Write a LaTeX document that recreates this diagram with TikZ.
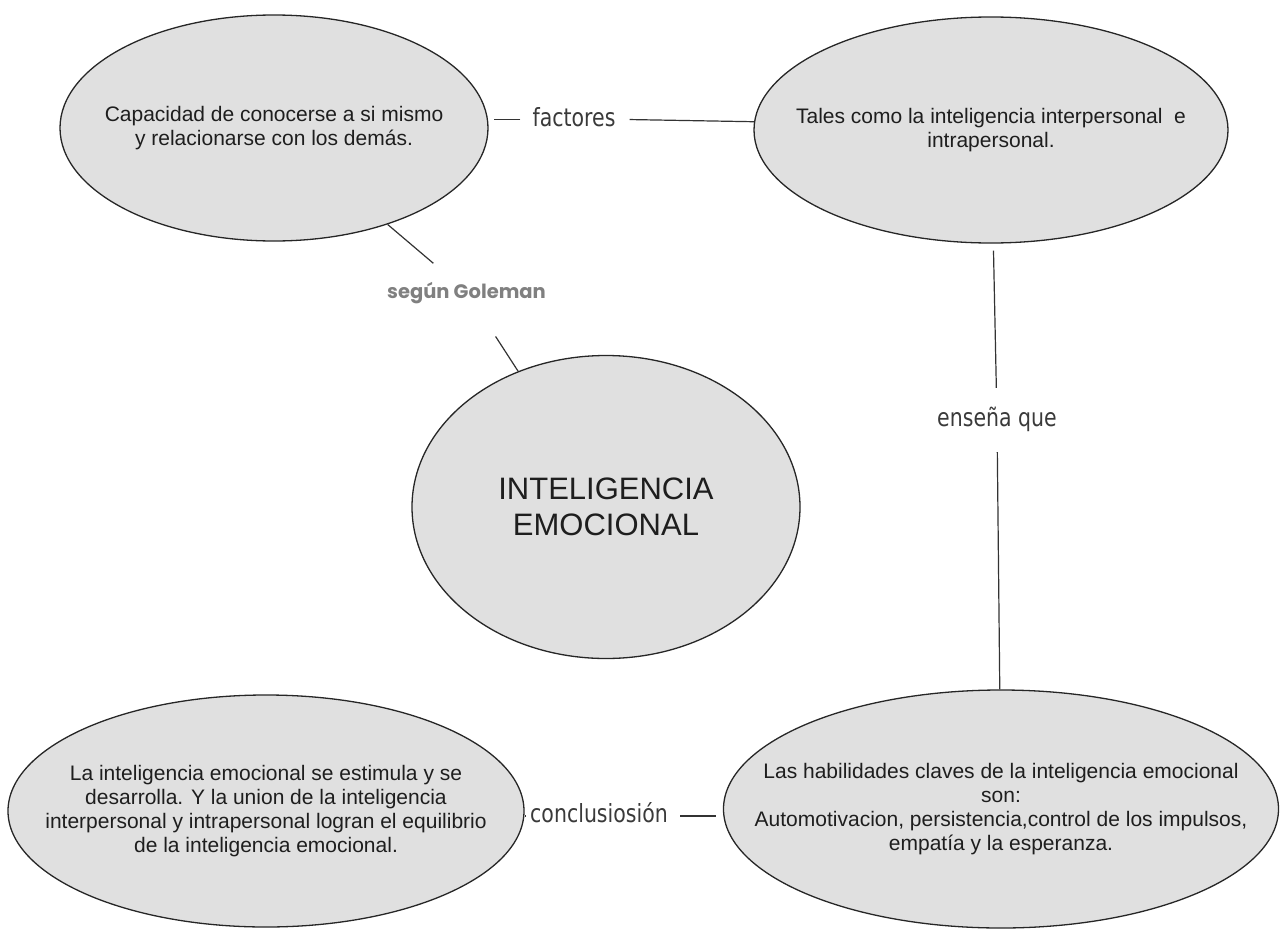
\documentclass[tikz,border=0pt]{standalone}
\usepackage{fontspec}
\setmainfont{Liberation Sans}
\newfontfamily\linkfont[FakeStretch=0.82]{DejaVu Sans}
\newfontfamily\golfont{Poppins}
\usetikzlibrary{shapes.geometric}
\definecolor{ovalfill}{RGB}{224,224,224}
\definecolor{ovaltext}{RGB}{30,30,30}
\definecolor{linktext}{RGB}{58,58,58}
\definecolor{golgray}{RGB}{128,128,128}
\tikzset{oval/.style={ellipse, draw=black!85, line width=1.3pt, fill=ovalfill, inner sep=0pt}, ovaltxt/.style={align=center, text=ovaltext, inner sep=0pt, font=\fontsize{21}{24}\selectfont}}
\tikzset{link/.style={font=\linkfont\fontsize{25}{30}\selectfont, text=linktext, text height=13.7pt, text depth=0pt, inner ysep=0pt}, conn/.style={draw=black!80, line width=1.2pt}}

\begin{document}
\begin{tikzpicture}[x=1pt,y=-1pt]
   \useasboundingbox (0,0) rectangle (1280,929);
   \node[oval, minimum width=428, minimum height=226,
      label={[ovaltxt]center:Capacidad de conocerse a si mismo\\ y relacionarse con los demás.}] (capacidad) at (274,128) {};
   \node[oval, minimum width=474, minimum height=226,
      label={[ovaltxt]center:Tales como la inteligencia interpersonal\ \ e\\ intrapersonal.}] (tales) at (991,130) {};
   \node[oval, minimum width=388, minimum height=303,
      label={[ovaltxt, font=\fontsize{31}{36.5}\selectfont]center:INTELIGENCIA\\ EMOCIONAL}] (ie) at (606,507) {};
   \node[oval, minimum width=516, minimum height=232,
      label={[ovaltxt]center:La inteligencia emocional se estimula y se\\ desarrolla. Y la union de la inteligencia\\ interpersonal y intrapersonal logran el equilibrio\\ de la inteligencia emocional.}] (conclusion) at (266,811) {};
   \node[oval, minimum width=555, minimum height=238,
      label={[ovaltxt]center:Las habilidades claves de la inteligencia emocional\\ son:\\ Automotivacion, persistencia,control de los impulsos,\\ empatía y la esperanza.}] (habilidades) at (1001,809) {};
   % link words
   \node[link, inner xsep=12pt] (factores) at (574,119.5) {factores};
   \node[link, inner ysep=25pt] (ensena) at (997,420) {enseña que};
   \node[link, inner xsep=4pt] (conclu) at (599,816) {conclusiosión};
   \node[font=\golfont\bfseries\fontsize{19.5}{24}\selectfont, text=golgray, text height=13.5pt, text depth=0pt, minimum height=56] (goleman) at (466.5,291.5) {según Goleman};
   % connectors
   \draw[conn, shorten >=5pt] (factores.west) -- (factores.west -| capacidad.east);
   \draw[conn, shorten <=2pt] (factores.east) -- (tales.178);
   \draw[conn] (capacidad) -- (goleman);
   \draw[conn, shorten <=20pt] (goleman) -- (ie);
   \draw[conn, shorten <=7pt] (tales) -- (ensena);
   \draw[conn] (ensena) -- (habilidades);
   \draw[conn] (conclu.west) -- (conclu.west -| conclusion.east);
   \draw[conn, shorten <=8pt, shorten >=7pt] (conclu.east) -- (conclu.east -| habilidades.west);
\end{tikzpicture}
\end{document}
